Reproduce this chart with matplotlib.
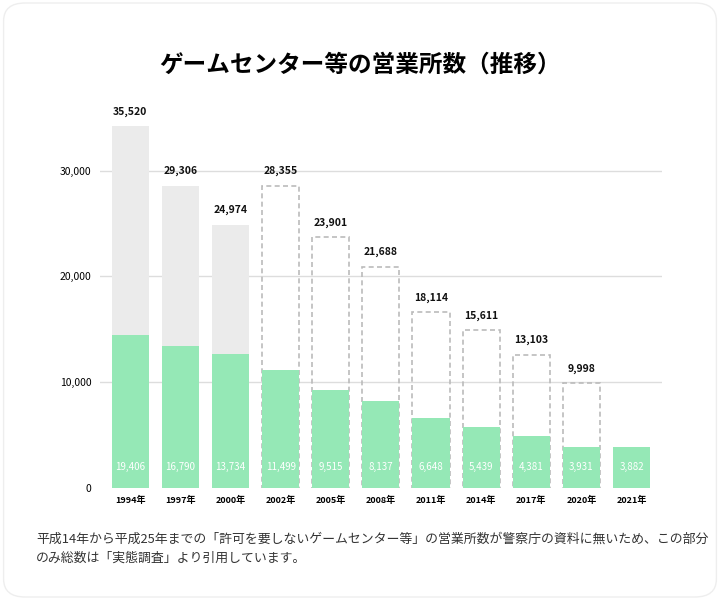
import matplotlib
matplotlib.use("Agg")
import matplotlib.pyplot as plt
from matplotlib.patches import FancyBboxPatch

plt.rcParams['font.family'] = ['Noto Sans CJK JP', 'DejaVu Sans']

years = ["1994年", "1997年", "2000年", "2002年", "2005年", "2008年",
         "2011年", "2014年", "2017年", "2020年", "2021年"]
# values as printed
unreg_labels = ["19,406", "16,790", "13,734", "11,499", "9,515", "8,137",
                "6,648", "5,439", "4,381", "3,931", "3,882"]
total_labels = ["35,520", "29,306", "24,974", "28,355", "23,901", "21,688",
                "18,114", "15,611", "13,103", "9,998", None]
# bar heights as drawn in the reference
green_h = [14500, 13400, 12700, 11100, 9300, 8200, 6600, 5800, 4900, 3900, 3900]
total_h = [34200, 28600, 24900, 28600, 23700, 20900, 16600, 14900, 12600, 9900, None]
estimated = [False, False, False, True, True, True, True, True, True, True, None]

fig = plt.figure(figsize=(7.2, 6), dpi=100)
card = FancyBboxPatch((0.005, 0.005), 0.99, 0.99, boxstyle="round,pad=0,rounding_size=0.03",
                      transform=fig.transFigure, fc="white", ec="#eeeeee", lw=1, zorder=-10)
fig.patches.append(card)
ax = fig.add_axes([0.139, 0.187, 0.78, 0.62])
ax.patch.set_alpha(0)
ax.set_xlim(-0.6, 10.6)
ax.set_ylim(0, 35200)

x = list(range(len(years)))
w = 0.74
for i in x:
    if total_h[i] is not None:
        if estimated[i]:
            ax.bar(i, total_h[i], width=w, facecolor="none", edgecolor="#bbbbbb",
                   linestyle=(0, (3, 2)), linewidth=1.2, zorder=2)
        else:
            ax.bar(i, total_h[i], width=w, color="#ebebeb", zorder=2)
        ax.text(i, total_h[i] + 900, total_labels[i], ha="center", va="bottom",
                fontsize=7.5, fontweight="bold", color="#111111")
    ax.bar(i, green_h[i], width=w, color="#95e8b6", zorder=3)
    ax.text(i, 2000, unreg_labels[i], ha="center", va="center", fontsize=7,
            color="white", zorder=4)

ax.set_yticks([0, 10000, 20000, 30000])
ax.set_yticklabels(["0", "10,000", "20,000", "30,000"], fontsize=7.5)
ax.set_xticks(x)
ax.set_xticklabels(years, fontsize=6.5, fontweight="bold")
ax.tick_params(length=0, pad=6)
for yv in [10000, 20000, 30000]:
    ax.axhline(yv, color="#dddddd", lw=1, zorder=1)
for s in ax.spines.values():
    s.set_visible(False)

fig.text(0.5, 0.893, "ゲームセンター等の営業所数（推移）", ha="center", va="center",
         fontsize=17, fontweight="bold")
fig.text(0.05, 0.085,
         "平成14年から平成25年までの「許可を要しないゲームセンター等」の営業所数が警察庁の資料に無いため、この部分\nのみ総数は「実態調査」より引用しています。",
         ha="left", va="center", fontsize=9.3, color="#333333", linespacing=1.6)

fig.savefig("out.png", dpi=100)
